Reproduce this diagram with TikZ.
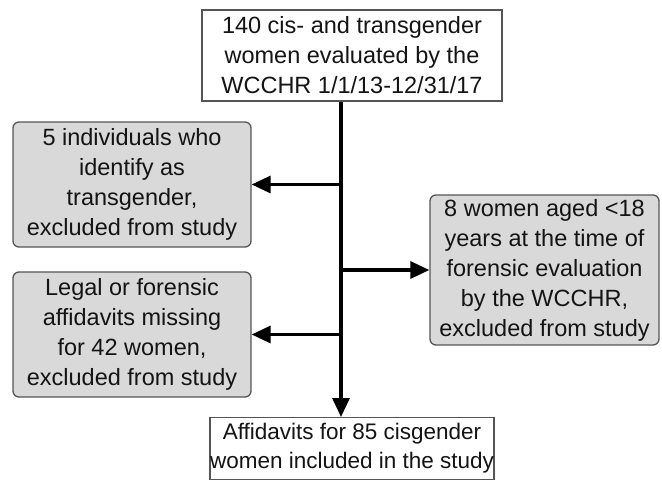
\documentclass[tikz,border=0pt]{standalone}
\usepackage{fontspec}
\setmainfont{Liberation Sans}
\usetikzlibrary{arrows.meta}
\definecolor{boxfill}{RGB}{217,217,217}
\definecolor{boxline}{RGB}{85,85,85}
\definecolor{txt}{RGB}{20,20,20}
\begin{document}
\begin{tikzpicture}[x=1pt,y=-1pt,
  every node/.style={font=\fontsize{23.5}{30}\selectfont, text=txt, align=center},
  plainbox/.style={draw=boxline, line width=1.3pt, fill=white, inner sep=0pt},
  exclbox/.style={draw=boxline, line width=1.3pt, fill=boxfill, rounded corners=6pt, inner sep=0pt},
  flow/.style={line width=3.2pt, -{Triangle[length=19pt,width=17pt]}}]
\useasboundingbox (0,0) rectangle (662,480);
\clip (0,0) rectangle (662,480);
\node[plainbox, minimum width=300pt, minimum height=91pt] (top) at (352,55.5)
  {140 cis- and transgender\\women evaluated by the\\WCCHR 1/1/13-12/31/17};
\node[exclbox, minimum width=238pt, minimum height=125pt] (b1) at (132,184.5)
  {5 individuals who\\identify as\\transgender,\\excluded from study};
\node[exclbox, minimum width=238pt, minimum height=125pt] (b2) at (132,334.5)
  {Legal or forensic\\affidavits missing\\for 42 women,\\excluded from study};
\node[exclbox, minimum width=229pt, minimum height=150pt] (r1) at (544.5,270)
  {8 women aged <18\\years at the time of\\forensic evaluation\\by the WCCHR,\\excluded from study};
\node[plainbox, anchor=north, minimum width=284pt, inner ysep=6pt,
  font=\fontsize{22.5}{29}\selectfont] (bot) at (352,417)
  {Affidavits for 85 cisgender\\women included in the study};
\coordinate (j1) at (341,184.5);
\coordinate (j2) at (341,270);
\coordinate (j3) at (341,334.5);
\draw[flow] (top.south -| j1) -- (bot.north -| j1);
\draw[flow] (j1) -- (b1.east);
\draw[flow] (j2) -- (r1.west);
\draw[flow] (j3) -- (b2.east);
\end{tikzpicture}
\end{document}
